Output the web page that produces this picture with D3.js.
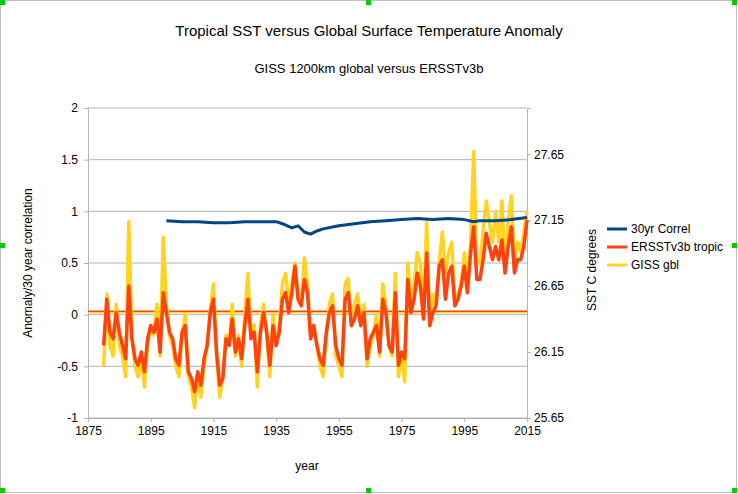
<!DOCTYPE html>
<html><head><meta charset="utf-8">
<script src="https://cdn.jsdelivr.net/npm/d3@7"></script>
<style>body{margin:0;background:#fff}text{font-family:"Liberation Sans",Arial,sans-serif}</style>
</head><body>
<script>
// GISS global anomaly, one value per year 1880-2015
var gissYears = d3.range(1880, 2016);
var giss = [-0.5,0.2,-0.3,-0.4,0.1,-0.3,-0.4,-0.6,0.9,-0.2,
 -0.5,-0.6,-0.4,-0.7,-0.3,-0.1,-0.2,0.1,-0.4,0.75,
 0.1,-0.2,-0.3,-0.5,-0.6,-0.2,0.0,-0.6,-0.7,-0.9,
 -0.6,-0.8,-0.5,-0.3,0.05,0.3,-0.4,-0.8,-0.6,-0.2,
 -0.3,0.1,-0.4,-0.2,-0.5,0.0,0.4,-0.2,-0.1,-0.7,
 -0.1,0.1,-0.2,-0.6,0.0,-0.3,-0.1,0.3,0.4,0.1,
 0.3,0.5,0.2,0.1,0.55,0.3,-0.2,-0.1,-0.3,-0.5,
 -0.6,-0.2,0.1,0.2,-0.4,-0.5,-0.6,0.3,0.35,-0.1,
 0.1,0.2,-0.1,0.1,-0.5,-0.3,-0.2,0.0,-0.4,0.3,
 0.1,-0.3,-0.4,0.4,-0.6,-0.4,-0.65,0.5,0.1,0.3,
 0.6,0.5,0.0,0.9,-0.1,0.2,0.1,0.5,0.8,0.4,
 0.6,0.7,0.1,0.2,0.3,0.6,0.3,0.7,1.58,0.5,
 0.5,0.8,1.1,0.9,0.7,1.0,0.7,1.1,0.4,0.9,
 1.15,0.5,0.7,0.6,0.8,1.0];
// ERSSTv3b tropical SST, degrees C
var ersst = [26.2,26.55,26.3,26.25,26.45,26.3,26.2,26.1,26.65,26.25,
 26.1,26.05,26.15,26.0,26.25,26.35,26.3,26.4,26.15,26.6,
 26.45,26.3,26.25,26.1,26.05,26.3,26.35,26.0,25.95,25.85,
 26.0,25.9,26.1,26.2,26.45,26.55,26.15,25.9,25.95,26.25,
 26.2,26.4,26.15,26.25,26.1,26.35,26.55,26.25,26.3,26.0,
 26.3,26.45,26.3,26.05,26.35,26.2,26.3,26.55,26.6,26.45,
 26.6,26.8,26.55,26.5,26.7,26.6,26.25,26.35,26.2,26.1,
 26.05,26.3,26.45,26.5,26.2,26.1,26.05,26.55,26.6,26.35,
 26.4,26.5,26.35,26.45,26.1,26.25,26.3,26.35,26.15,26.55,
 26.45,26.2,26.15,26.6,26.05,26.15,26.1,26.7,26.45,26.55,
 26.75,26.65,26.4,26.9,26.35,26.45,26.5,26.8,26.85,26.55,
 26.75,26.8,26.5,26.55,26.65,26.8,26.6,26.9,27.1,26.7,
 26.7,26.85,27.05,26.95,26.85,26.95,26.85,27.0,26.75,26.95,
 27.1,26.75,26.85,26.85,26.95,27.15];
// 30 year correlation
var correlYears = [1900,1905,1910,1915,1920,1925,1930,1935,1937,1940,1942,1944,1946,1948,1950,1955,1960,1965,1970,1975,1980,1985,1990,1995,1998,2000,2005,2010,2015];
var correl = [0.91,0.90,0.90,0.89,0.89,0.90,0.90,0.90,0.88,0.84,0.86,0.80,0.78,0.81,0.83,0.86,0.88,0.90,0.91,0.92,0.93,0.92,0.93,0.92,0.90,0.91,0.91,0.92,0.94];
var gissMean = 0.02, ersstMean = 26.46;
var leftTicks = [-1,-0.5,0,0.5,1,1.5,2];
var rightTicks = [25.65,26.15,26.65,27.15,27.65];
var xTicks = [1875,1895,1915,1935,1955,1975,1995,2015];
var legendNames = ["30yr Correl","ERSSTv3b tropic","GISS gbl"];
var colors = {correl:"#004586", ersst:"#ff420e", giss:"#ffd320"};

var W = 738, H = 494;
var svg = d3.select("body").append("svg").attr("width", W).attr("height", H);
svg.append("rect").attr("x",0.5).attr("y",0.5).attr("width",W-2).attr("height",H-2).attr("fill","none").attr("stroke","#c0c0c0");
[[2,2],[368,2],[734,2],[2,245],[734,245],[2,490],[368,490],[734,490]].forEach(function(p){
  svg.append("rect").attr("x",p[0]-2).attr("y",p[1]-2).attr("width",5).attr("height",5).attr("fill","#00cc00");
});

var x = d3.scaleLinear().domain([1875,2015]).range([88,527]);
var y = d3.scaleLinear().domain([-1,2]).range([418,108]);
var y2 = d3.scaleLinear().domain([25.65,28.0]).range([418,108]);

// grid
svg.append("g").selectAll("line").data(leftTicks).join("line")
  .attr("x1",88).attr("x2",527).attr("y1",d=>y(d)).attr("y2",d=>y(d)).attr("stroke","#b3b3b3");

var ax = svg.append("g").attr("transform","translate(0,418)").call(d3.axisBottom(x).tickValues(xTicks).tickFormat(d3.format("d")).tickSize(4).tickPadding(4));
var ay = svg.append("g").attr("transform","translate(88,0)").call(d3.axisLeft(y).tickValues(leftTicks).tickFormat(d=>d).tickSize(4).tickPadding(6));
var ay2 = svg.append("g").attr("transform","translate(527,0)").call(d3.axisRight(y2).tickValues(rightTicks).tickFormat(d3.format(".2f")).tickSize(4).tickPadding(3));
[ax,ay,ay2].forEach(function(a){
  a.selectAll("path,line").attr("stroke","#b3b3b3");
  a.selectAll("text").attr("font-size",12).attr("fill","#000");
});

svg.append("line").attr("x1",88).attr("x2",527).attr("y1",y(gissMean)).attr("y2",y(gissMean)).attr("stroke",colors.giss).attr("stroke-width",1.5);
svg.append("line").attr("x1",88).attr("x2",527).attr("y1",y2(ersstMean)).attr("y2",y2(ersstMean)).attr("stroke",colors.ersst).attr("stroke-width",1.5);

var lg = d3.line().x((d,i)=>x(gissYears[i])).y(d=>y(d)).curve(d3.curveLinear);
svg.append("path").datum(giss).attr("d",lg).attr("fill","none").attr("stroke",colors.giss).attr("stroke-width",3.5).attr("stroke-linejoin","round");
var le = d3.line().x((d,i)=>x(gissYears[i])).y(d=>y2(d));
svg.append("path").datum(ersst).attr("d",le).attr("fill","none").attr("stroke",colors.ersst).attr("stroke-width",3.5).attr("stroke-linejoin","round");
var lc = d3.line().x((d,i)=>x(correlYears[i])).y(d=>y(d));
svg.append("path").datum(correl).attr("d",lc).attr("fill","none").attr("stroke",colors.correl).attr("stroke-width",3).attr("stroke-linejoin","round");

svg.append("text").attr("x",369).attr("y",36).attr("text-anchor","middle").attr("font-size",15).text("Tropical SST versus Global Surface Temperature Anomaly");
svg.append("text").attr("x",369).attr("y",73).attr("text-anchor","middle").attr("font-size",13).text("GISS 1200km global versus ERSSTv3b");
svg.append("text").attr("x",307).attr("y",470).attr("text-anchor","middle").attr("font-size",12).text("year");
svg.append("text").attr("transform","translate(32,263) rotate(-90)").attr("text-anchor","middle").attr("font-size",12).text("Anomaly/30 year correlation");
svg.append("text").attr("transform","translate(596,270) rotate(-90)").attr("text-anchor","middle").attr("font-size",12).text("SST C degrees");

var leg = svg.append("g").selectAll("g").data(legendNames).join("g").attr("transform",(d,i)=>"translate(607,"+(229+i*18)+")");
leg.append("line").attr("x1",0).attr("x2",20).attr("stroke",(d,i)=>[colors.correl,colors.ersst,colors.giss][i]).attr("stroke-width",3);
leg.append("text").attr("x",24).attr("y",4).attr("font-size",12).text(d=>d);
</script>
</body></html>
